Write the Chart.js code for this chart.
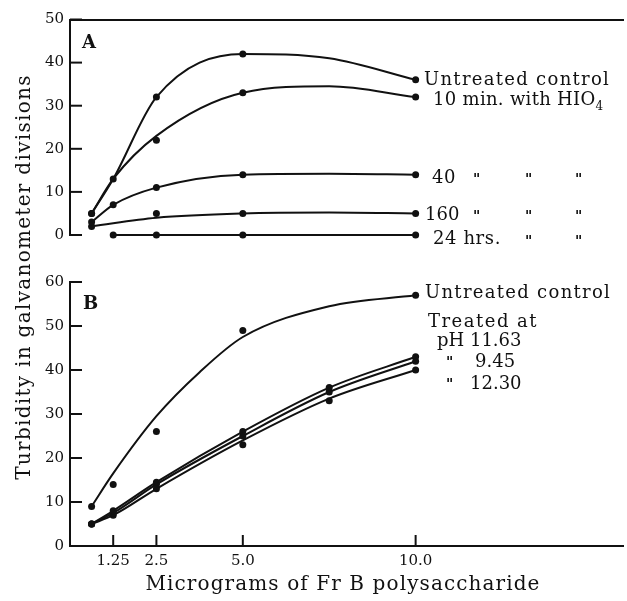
<!DOCTYPE html>
<html lang="en">
<head>
<meta charset="UTF-8">
<title>Turbidity of Fr B polysaccharide</title>
<script src="https://cdn.jsdelivr.net/npm/chart.js"></script>
<style>
  body { margin: 0; background: #fff; }
  #wrap { position: relative; width: 627px; height: 601px; }
  #wrap canvas { position: absolute; left: 0; top: 0; }
</style>
</head>
<body>
<div id="wrap">
  <canvas id="chartB" width="627" height="601"></canvas>
  <canvas id="chartA" width="627" height="250"></canvas>
</div>
<script>
// Panel A - periodate (HIO4) treatment, measured dots
const dosesA = [0.625, 1.25, 2.5, 5, 10];
const untreatedA = [5, 13, 32, 42, 36];
const hio10A = [5, null, 22, 33, 32];
const hio40A = [3, 7, 11, 14, 14];
const hio160A = [2, null, 5, 5, 5];
const hrs24A = [null, 0, 0, 0, 0];

// Panel A - drawn curves, read at these doses
const fitDosesA = [0.625, 1.25, 2.5, 5, 7.5, 10];
const untreatedAFit = [5, 13, 32, 42, 41, 36];
const hio10AFit = [5, 13, 23, 33, 34.5, 32];
const hio40AFit = [3, 7, 11, 14, 14.2, 14];
const hio160AFit = [2, null, 4, 5, 5.2, 5];
const hrs24AFit = [null, 0, 0, 0, 0, 0];

// Panel B - alkali treatment
const dosesB = [0.625, 1.25, 2.5, 5, 10];
const untreatedB = [9, 14, 26, 49, 57];
const fitDosesB = [0.625, 1.25, 2.5, 3.75, 5, 7.5, 10];
const untreatedBFit = [9, 16.5, 29.5, 39.5, 47.5, 54.5, 57];
const dosesTreated = [0.625, 1.25, 2.5, 5, 7.5, 10];
const ph1163 = [5, 8, 14.5, 26, 36, 43];
const ph945 = [5, 7.5, 14, 25, 35, 42];
const ph1230 = [5, 7, 13, 23, 33, 40];
const ph1230Fit = [5, 7, 13, 24, 33.5, 40];

const xTickVals = [1.25, 2.5, 5, 10];
const xTickLabels = ['1.25', '2.5', '5.0', '10.0'];

const INK = '#111';
const FONT = 'DejaVu Serif';

function toXY(doses, vals) {
    return doses.map((d, i) => ({ x: d, y: vals[i] })).filter(p => p.y !== null);
}

// one smooth curve + the measured dots
function series(fitDoses, fit, doses, pts) {
    return [
        { data: toXY(fitDoses, fit), showLine: true, cubicInterpolationMode: 'monotone', borderColor: INK, borderWidth: 2, pointRadius: 0, clip: false },
        { data: toXY(doses, pts), showLine: false, pointRadius: 3.5, backgroundColor: INK, borderWidth: 0, clip: false }
    ];
}

// ticks point into the plot in the original
const innerTicks = {
    id: 'innerTicks',
    afterDatasetsDraw(chart, args, opts) {
        const ctx = chart.ctx, ca = chart.chartArea;
        ctx.save();
        ctx.strokeStyle = INK;
        ctx.lineWidth = 2;
        const ys = chart.scales.y;
        ys.ticks.forEach(t => {
            const py = ys.getPixelForValue(t.value);
            ctx.beginPath(); ctx.moveTo(ca.left, py); ctx.lineTo(ca.left + 12, py); ctx.stroke();
        });
        if (opts.xTicks) {
            const xs = chart.scales.x;
            xs.ticks.forEach(t => {
                const px = xs.getPixelForValue(t.value);
                ctx.beginPath(); ctx.moveTo(px, ca.bottom); ctx.lineTo(px, ca.bottom - 11); ctx.stroke();
            });
        }
        ctx.restore();
    }
};

function text(ctx, s, x, y, size, opt) {
    opt = opt || {};
    ctx.font = (opt.bold ? 'bold ' : '') + size + 'px "' + FONT + '"';
    ctx.letterSpacing = (opt.spacing || 0) + 'px';
    ctx.fillText(s, x, y);
    return ctx.measureText(s).width;
}

const notes = {
    id: 'notes',
    afterDraw(chart, args, opts) {
        const ctx = chart.ctx;
        ctx.save();
        ctx.fillStyle = INK;
        ctx.textBaseline = 'middle';
        ctx.textAlign = 'left';
        opts.draw(ctx, chart);
        ctx.restore();
    }
};

const LBL = 18;

function ditto(ctx, x, y) {
    text(ctx, '"', x, y + 2, 14, { bold: true });
}

function drawNotesA(ctx) {
    text(ctx, 'A', 82, 43, 18, { bold: true });
    text(ctx, 'Untreated control', 424, 80, LBL, { spacing: 1.3 });
    const w = text(ctx, '10 min. with HIO', 433, 100, LBL, { spacing: 0.3 });
    text(ctx, '4', 433 + w, 107, 12);
    text(ctx, '40', 432, 178, LBL, { spacing: 0.6 });
    text(ctx, '160', 425, 215, LBL);
    text(ctx, '24 hrs.', 433, 239, LBL, { spacing: 0.6 });
    [473, 525, 575].forEach(x => { ditto(ctx, x, 178); ditto(ctx, x, 215); });
    [525, 575].forEach(x => ditto(ctx, x, 240));
}

function drawNotesB(ctx) {
    text(ctx, 'B', 83, 304, 18, { bold: true });
    text(ctx, 'Untreated control', 425, 293, LBL, { spacing: 1.3 });
    text(ctx, 'Treated at', 428, 322, LBL, { spacing: 1.5 });
    text(ctx, 'pH 11.63', 437, 341, LBL);
    ditto(ctx, 446, 361);
    text(ctx, '9.45', 475, 362, LBL);
    ditto(ctx, 446, 383);
    text(ctx, '12.30', 470, 384, LBL);
    // axis titles
    ctx.textAlign = 'center';
    text(ctx, 'Micrograms of Fr B polysaccharide', 343, 585, 20, { spacing: 1.1 });
    ctx.save();
    ctx.translate(25, 277);
    ctx.rotate(-Math.PI / 2);
    text(ctx, 'Turbidity in galvanometer divisions', 0, 0, 20, { spacing: 1.3 });
    ctx.restore();
}

const yAxisBase = {
    type: 'linear',
    min: 0,
    ticks: { stepSize: 10, color: INK, padding: 6, font: { family: FONT, size: 15 } },
    grid: { display: false, drawTicks: false },
    border: { color: INK, width: 2 },
    afterFit(scale) { scale.width = 70; }
};

new Chart(document.getElementById('chartA'), {
    type: 'scatter',
    data: {
        datasets: [
            ...series(fitDosesA, untreatedAFit, dosesA, untreatedA),
            ...series(fitDosesA, hio10AFit, dosesA, hio10A),
            ...series(fitDosesA, hio40AFit, dosesA, hio40A),
            ...series(fitDosesA, hio160AFit, dosesA, hio160A),
            ...series(fitDosesA, hrs24AFit, dosesA, hrs24A)
        ]
    },
    options: {
        responsive: false,
        animation: false,
        layout: { padding: { top: 19.5, bottom: 11, left: 0, right: 0 } },
        plugins: {
            legend: { display: false },
            tooltip: { enabled: false },
            innerTicks: {},
            notes: { draw: drawNotesA }
        },
        scales: {
            x: {
                type: 'linear', position: 'top', min: 0, max: 16,
                ticks: { display: false },
                grid: { display: false, drawTicks: false },
                border: { color: INK, width: 2 }
            },
            y: { ...yAxisBase, max: 50 }
        }
    },
    plugins: [innerTicks, notes]
});

new Chart(document.getElementById('chartB'), {
    type: 'scatter',
    data: {
        datasets: [
            ...series(fitDosesB, untreatedBFit, dosesB, untreatedB),
            ...series(dosesTreated, ph1163, dosesTreated, ph1163),
            ...series(dosesTreated, ph945, dosesTreated, ph945),
            ...series(dosesTreated, ph1230Fit, dosesTreated, ph1230)
        ]
    },
    options: {
        responsive: false,
        animation: false,
        layout: { padding: { top: 282, bottom: 0, left: 0, right: 0 } },
        plugins: {
            legend: { display: false },
            tooltip: { enabled: false },
            innerTicks: { xTicks: true },
            notes: { draw: drawNotesB }
        },
        scales: {
            x: {
                type: 'linear', min: 0, max: 16,
                afterBuildTicks(scale) { scale.ticks = xTickVals.map(v => ({ value: v })); },
                afterFit(scale) { scale.height = 55; },
                ticks: {
                    autoSkip: false, maxRotation: 0, color: INK, padding: 6,
                    font: { family: FONT, size: 15 },
                    callback: (v, i) => xTickLabels[i]
                },
                grid: { display: false, drawTicks: false },
                border: { color: INK, width: 2 }
            },
            y: { ...yAxisBase, max: 60 }
        }
    },
    plugins: [innerTicks, notes]
});
</script>
</body>
</html>
